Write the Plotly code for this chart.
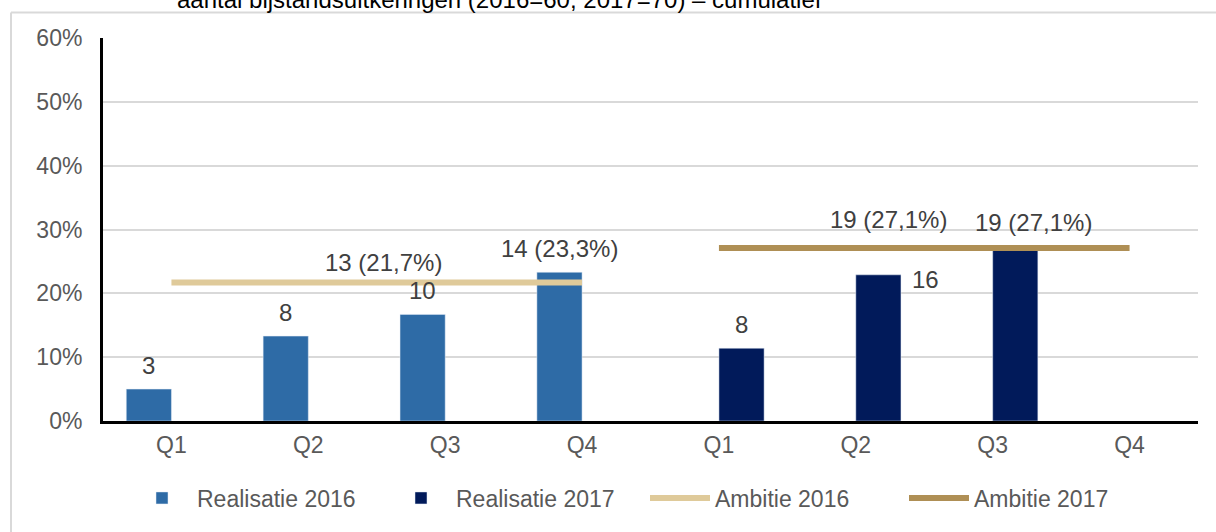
import plotly.graph_objects as go

# ---- data ----
quarters = ["Q1", "Q2", "Q3", "Q4", "Q1", "Q2", "Q3", "Q4"]
real_2016 = [0.050, 0.133, 0.167, 0.233]          # Q1-Q4 2016
real_2016_labels = ["3", "8", "10", "14 (23,3%)"]
real_2017 = [0.114, 0.229, 0.271]                 # Q1-Q3 2017
real_2017_labels = ["8", "16", "19 (27,1%)"]
amb_2016 = 0.217
amb_2016_label = "13 (21,7%)"
amb_2017 = 0.271
amb_2017_label = "19 (27,1%)"
title_text = "aantal bijstandsuitkeringen (2016=60, 2017=70) – cumulatief"

# ---- style ----
FONT = "Liberation Sans, Arial, sans-serif"
C16 = "#2E6BA6"
C17 = "#011A5A"
A16 = "#DFCA9A"
A17 = "#AF8F55"
TICK = "#595959"
LBL = "#404040"
FS = 23
FSL = 24
BARGAP = 0.34
BW = (1 - BARGAP) / 2   # width of one bar in category units
half = BW / 2

x16 = list(range(len(real_2016)))
x17 = list(range(4, 4 + len(real_2017)))

fig = go.Figure()
fig.add_trace(go.Bar(x=x16, y=real_2016, name="Realisatie 2016", marker_color=C16,
                     width=BW, offset=-BW))
fig.add_trace(go.Bar(x=x17, y=real_2017, name="Realisatie 2017", marker_color=C17,
                     width=BW, offset=0))
fig.add_trace(go.Scatter(x=[0, 3], y=[amb_2016] * 2, mode="lines", name="Ambitie 2016",
                         line=dict(color=A16, width=6)))
fig.add_trace(go.Scatter(x=[4, 7], y=[amb_2017] * 2, mode="lines", name="Ambitie 2017",
                         line=dict(color=A17, width=6)))

ann = []
# bar labels (offset: xshift, yshift)
off16 = [(0, 24), (0, 24), (0, 24), (0, 24)]
for xi, v, t, (dx, dy) in zip(x16, real_2016, real_2016_labels, off16):
    ann.append(dict(x=xi - half, y=v, text=t, xshift=dx, yshift=dy))
off17 = [(0, 24), (47, -5), (18, 26)]
for xi, v, t, (dx, dy) in zip(x17, real_2017, real_2017_labels, off17):
    ann.append(dict(x=xi + half, y=v, text=t, xshift=dx, yshift=dy))
ann.append(dict(x=1.5, y=amb_2016, text=amb_2016_label, xshift=7, yshift=20))
ann.append(dict(x=5.5, y=amb_2017, text=amb_2017_label, xshift=-36, yshift=29))
for a in ann:
    a.update(xref="x", yref="y", showarrow=False, yanchor="middle", xanchor="center",
             font=dict(family=FONT, size=FSL, color=LBL))

# title (clipped by the top edge, as in the source image)
ann.append(dict(xref="paper", yref="paper", x=(499 - 103) / 1095, y=1 + (38 + 1) / 383,
                text=title_text, showarrow=False, xanchor="center", yanchor="middle",
                font=dict(family=FONT, size=FSL, color="#000000")))

shapes = [
    dict(type="line", xref="paper", yref="paper", x0=(11 - 103) / 1095, x1=(1216 - 103) / 1095,
         y0=1 + (38 - 12.5) / 383, y1=1 + (38 - 12.5) / 383, line=dict(color="#D9D9D9", width=2)),
    dict(type="line", xref="paper", yref="paper", x0=(11 - 103) / 1095, x1=(11 - 103) / 1095,
         y0=1 + (38 - 12.5) / 383, y1=-(532 - 421) / 383, line=dict(color="#D9D9D9", width=2)),
]

fig.update_layout(
    width=1216, height=532,
    margin=dict(l=103, r=18, t=38, b=111, autoexpand=False),
    paper_bgcolor="white", plot_bgcolor="white",
    font=dict(family=FONT, size=FS, color=TICK),
    xaxis=dict(range=[-0.5, 7.5], tickmode="array", tickvals=list(range(8)), ticktext=quarters,
               showgrid=False, zeroline=False, showline=True, linecolor="black", linewidth=3,
               ticks="", ticklabelstandoff=1, tickfont=dict(size=FS, color=TICK)),
    yaxis=dict(range=[0, 0.6], dtick=0.1, tickformat=".0%", showgrid=True, gridcolor="#D9D9D9",
               gridwidth=2, zeroline=False, showline=True, linecolor="black", linewidth=3,
               ticks="", ticklabelstandoff=13, tickfont=dict(size=FS, color=TICK)),
    legend=dict(orientation="h", x=(645 - 103) / 1095, xanchor="center", y=-(498 - 421) / 383,
                yanchor="middle", itemwidth=60, entrywidth=184, entrywidthmode="pixels",
                font=dict(size=FS, color=TICK), traceorder="normal"),
    annotations=ann, shapes=shapes,
)

fig.write_html("out.html", config={"displayModeBar": False},
               post_script="document.body.style.margin='0';document.body.style.overflow='hidden';")
